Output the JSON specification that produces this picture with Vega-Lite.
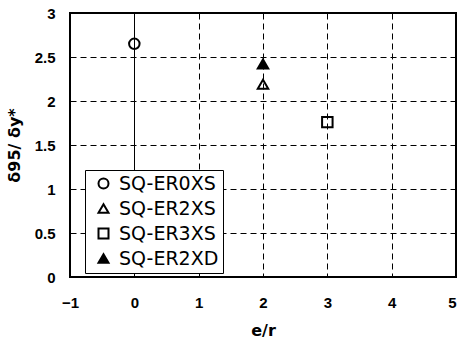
{
  "$schema": "https://vega.github.io/schema/vega-lite/v6.json",
  "autosize": {"type": "none"},
  "width": 386,
  "height": 264,
  "padding": {"left": 70, "top": 13, "right": 1, "bottom": 65},
  "background": "white",
  "config": {
    "view": {"stroke": "black", "strokeWidth": 2},
    "font": "Liberation Sans"
  },
  "data": {
    "values": [
      {"series": "SQ-ER0XS", "er": 0, "ratio": 2.65},
      {"series": "SQ-ER2XS", "er": 2, "ratio": 2.19},
      {"series": "SQ-ER3XS", "er": 3, "ratio": 1.76},
      {"series": "SQ-ER2XD", "er": 2, "ratio": 2.42}
    ]
  },
  "mark": {"type": "point", "size": 110, "strokeWidth": 2, "opacity": 1},
  "encoding": {
    "x": {
      "field": "er", "type": "quantitative", "title": "e/r",
      "scale": {"domain": [-1, 5], "nice": false, "zero": false},
      "axis": {
        "values": [-1, 0, 1, 2, 3, 4, 5],
        "domain": false, "ticks": false,
        "labelFont": "Liberation Sans", "labelFontSize": 15, "labelFontWeight": "bold", "labelColor": "black",
        "labelPadding": 18, "labelFlush": false,
        "labelAlign": {"condition": {"test": "datum.value === 5", "value": "right"}, "value": "center"},
        "titleFont": "DejaVu Sans", "titleFontSize": 16, "titleFontWeight": "bold", "titleColor": "black",
        "titlePadding": 12,
        "gridColor": "black", "gridOpacity": 1, "gridWidth": 1,
        "gridDash": {"condition": {"test": "datum.value === 0", "value": []}, "value": [6, 4]}
      }
    },
    "y": {
      "field": "ratio", "type": "quantitative", "title": "δ95/ δy*",
      "scale": {"domain": [0, 3], "nice": false},
      "axis": {
        "values": [0, 0.5, 1, 1.5, 2, 2.5, 3],
        "format": ".1~f",
        "domain": false, "ticks": false,
        "labelFont": "Liberation Sans", "labelFontSize": 15, "labelFontWeight": "bold", "labelColor": "black",
        "labelPadding": 15, "labelFlush": false,
        "titleFont": "DejaVu Sans", "titleFontSize": 16, "titleFontWeight": "bold", "titleColor": "black",
        "titlePadding": 12,
        "gridColor": "black", "gridOpacity": 1, "gridWidth": 1, "gridDash": [6, 4]
      }
    },
    "stroke": {
      "field": "series", "type": "nominal", "title": null,
      "scale": {
        "domain": ["SQ-ER0XS", "SQ-ER2XS", "SQ-ER3XS", "SQ-ER2XD"],
        "range": ["black", "black", "black", "black"]
      }
    },
    "shape": {
      "field": "series", "type": "nominal", "title": null,
      "scale": {
        "domain": ["SQ-ER0XS", "SQ-ER2XS", "SQ-ER3XS", "SQ-ER2XD"],
        "range": ["circle", "triangle-up", "square", "triangle-up"]
      },
      "legend": {
        "orient": "none", "legendX": 15, "legendY": 157,
        "fillColor": "white", "strokeColor": "black",
        "padding": 4, "rowPadding": 5,
        "symbolOffset": 5,
        "labelFont": "DejaVu Sans", "labelFontSize": 19, "labelColor": "black",
        "labelOffset": 6,
        "labelExpr": "datum.label + '\u00a0\u00a0'",
        "symbolSize": 100, "symbolStrokeWidth": 2
      }
    },
    "fill": {
      "field": "series", "type": "nominal", "title": null,
      "scale": {
        "domain": ["SQ-ER0XS", "SQ-ER2XS", "SQ-ER3XS", "SQ-ER2XD"],
        "range": ["transparent", "transparent", "transparent", "black"]
      }
    }
  }
}
